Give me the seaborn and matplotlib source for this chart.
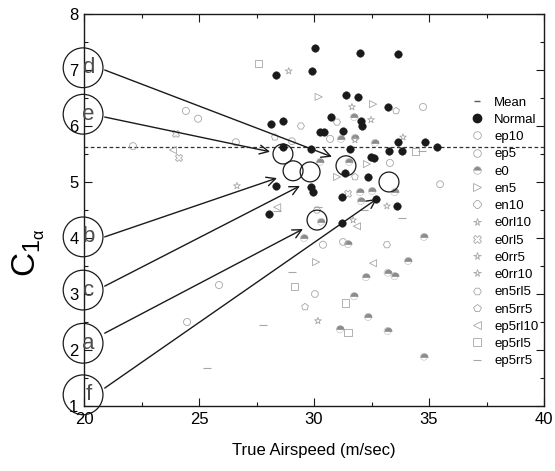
import matplotlib
matplotlib.use("Agg")
import matplotlib.pyplot as plt
from matplotlib import font_manager
from matplotlib.lines import Line2D
from matplotlib.markers import MarkerStyle
import seaborn as sns
import pandas as pd

# ---------------- data ----------------
normal_x = [30.04, 32.0, 33.65, 28.35, 29.9, 31.4, 31.9, 33.2, 28.13, 28.65, 30.74, 32.04, 32.1,
            30.26, 30.45, 31.26, 28.65, 29.87, 31.57, 32.48, 32.6, 33.26, 33.65, 33.83, 34.83, 35.35,
            31.35, 32.35, 28.35, 29.87, 29.96, 31.2, 32.7, 33.6, 28.04, 31.2]
normal_y = [7.39, 7.30, 7.29, 6.91, 6.98, 6.55, 6.52, 6.34, 6.04, 6.09, 6.16, 6.09, 6.0,
            5.89, 5.90, 5.91, 5.62, 5.59, 5.59, 5.45, 5.43, 5.55, 5.71, 5.55, 5.71, 5.63,
            5.16, 5.09, 4.93, 4.91, 4.82, 4.73, 4.70, 4.57, 4.43, 4.27]

ep10_x = [24.43, 22.13, 26.6, 30.7, 33.3]
ep10_y = [6.27, 5.64, 5.71, 5.77, 5.34]
ep5_x = [24.96, 25.87, 24.48, 34.74, 30.39]
ep5_y = [6.13, 3.16, 2.50, 6.34, 3.88]
e0_x = [31.74, 31.17, 31.78, 32.65, 30.26, 31.52, 32.0, 32.52, 33.5, 32.04, 30.3, 29.57, 31.48,
        32.26, 33.2, 33.5, 31.74, 32.35, 31.13, 33.2, 34.78, 34.09, 34.78]
e0_y = [6.16, 5.77, 5.79, 5.70, 5.36, 5.36, 4.82, 4.84, 4.82, 4.66, 4.29, 4.0, 3.89,
        3.30, 3.38, 3.32, 2.96, 2.59, 2.37, 2.34, 4.02, 3.59, 1.88]
en5_x = [30.2, 32.57, 32.3, 30.09, 31.0]
en5_y = [6.52, 6.39, 5.32, 3.57, 5.09]
en10_x = [35.48, 29.04, 31.26, 30.04]
en10_y = [4.96, 5.73, 3.93, 3.0]
e0rl10_x = [28.9, 31.78, 33.17]
e0rl10_y = [6.98, 5.75, 4.57]
e0rl5_x = [24.0, 24.13, 31.48]
e0rl5_y = [5.86, 5.43, 4.79]
e0rr5_x = [26.65, 32.48, 30.17]
e0rr5_y = [4.93, 6.11, 2.52]
e0rr10_x = [31.65, 33.87, 31.7]
e0rr10_y = [6.34, 5.80, 4.32]
en5rl5_x = [29.43, 31.0, 30.13, 33.17]
en5rl5_y = [6.0, 6.07, 4.50, 3.88]
en5rr5_x = [28.3, 33.57, 29.61, 31.78]
en5rr5_y = [5.80, 6.27, 2.77, 5.09]
ep5rl10_x = [23.87, 28.4, 31.87, 32.57]
ep5rl10_y = [5.57, 4.55, 4.21, 3.55]
ep5rl5_x = [27.57, 29.17, 31.35, 31.48, 34.4]
ep5rl5_y = [7.11, 3.14, 2.84, 2.32, 5.55]
ep5rr5_x = [27.78, 29.04, 25.35, 32.17, 33.83, 34.7, 30.17, 28.39]
ep5rr5_y = [2.45, 3.39, 1.68, 4.50, 4.36, 5.55, 4.55, 4.48]

mean_value = 5.62

# highlighted points (big open circles) and their labels
hl_x = [28.65, 29.09, 29.83, 31.39, 33.26, 30.13]
hl_y = [5.50, 5.20, 5.18, 5.29, 5.00, 4.32]
tag_labels = ["d", "e", "b", "c", "a", "f"]
tag_y = [7.04, 6.21, 4.02, 3.07, 2.12, 1.20]
arrow_start_y = [7.0, 6.16, 4.02, 3.14, 2.30, 1.32]
arrow_end_x = [30.78, 28.09, 28.39, 29.39, 29.52, 32.74]
arrow_end_y = [5.45, 5.54, 5.07, 4.93, 4.16, 4.70]

x_ticks = [20, 25, 30, 35, 40]
y_ticks = [1, 2, 3, 4, 5, 6, 7, 8]

# ---------------- style ----------------
sns.set_theme(style="ticks")
avail = {f.name for f in font_manager.fontManager.ttflist}
fams = [f for f in ["Liberation Sans Narrow", "Liberation Sans", "DejaVu Sans"] if f in avail]
plt.rcParams["font.family"] = fams
plt.rcParams["mathtext.fontset"] = "custom"
plt.rcParams["mathtext.rm"] = fams[0]
for k in ["text.color", "axes.labelcolor", "xtick.color", "ytick.color",
          "xtick.labelcolor", "ytick.labelcolor"]:
    plt.rcParams[k] = "black"

fig = plt.figure(figsize=(5.55, 4.71), dpi=100)
ax = fig.add_axes([84 / 555, 1 - 406 / 471, 460 / 555, 392 / 471])

gray = "#a6a6a6"
lw = 0.6
S = 26

series = [
    ("ep10", ep10_x, ep10_y, dict(marker="o")),
    ("ep5", ep5_x, ep5_y, dict(marker="o")),
    ("e0", e0_x, e0_y, None),
    ("en5", en5_x, en5_y, dict(marker=">")),
    ("en10", en10_x, en10_y, dict(marker="8")),
    ("e0rl10", e0rl10_x, e0rl10_y, dict(marker="*")),
    ("e0rl5", e0rl5_x, e0rl5_y, dict(marker="X")),
    ("e0rr5", e0rr5_x, e0rr5_y, dict(marker="*")),
    ("e0rr10", e0rr10_x, e0rr10_y, dict(marker="*")),
    ("en5rl5", en5rl5_x, en5rl5_y, dict(marker="H")),
    ("en5rr5", en5rr5_x, en5rr5_y, dict(marker="p")),
    ("ep5rl10", ep5rl10_x, ep5rl10_y, dict(marker="<")),
    ("ep5rl5", ep5rl5_x, ep5rl5_y, dict(marker="s")),
    ("ep5rr5", ep5rr5_x, ep5rr5_y, dict(marker="_")),
]

handles = [Line2D([], [], ls="none", marker="_", color="0.35", markersize=5),
           Line2D([], [], ls="none", marker="o", color="k", markersize=6)]
labels = ["Mean", "Normal"]

for name, xs, ys, kw in series:
    df = pd.DataFrame({"x": xs, "y": ys})
    if name == "e0":
        sns.scatterplot(data=df, x="x", y="y", ax=ax, marker="o", s=S,
                        facecolor="none", edgecolor="#c8c8c8", linewidth=0.5, zorder=3)
        sns.scatterplot(data=df, x="x", y="y", ax=ax, marker=MarkerStyle("o", fillstyle="top"),
                        s=S, color="#8c8c8c", edgecolor="#8c8c8c", linewidth=0.5, zorder=3)
        handles.append(Line2D([], [], ls="none", marker="o", fillstyle="top", color="#8c8c8c",
                              markerfacecoloralt="white", markeredgecolor="#b0b0b0",
                              markersize=5.5, markeredgewidth=0.5))
    else:
        m = kw["marker"]
        if m == "_":
            sns.scatterplot(data=df, x="x", y="y", ax=ax, marker="_", s=S,
                            color=gray, linewidth=0.8, zorder=3)
            handles.append(Line2D([], [], ls="none", marker="_", color=gray, markersize=5.5,
                                  markeredgewidth=0.8))
        else:
            sns.scatterplot(data=df, x="x", y="y", ax=ax, marker=m, s=S,
                            facecolor="none", edgecolor=gray, linewidth=lw, zorder=3)
            handles.append(Line2D([], [], ls="none", marker=m, markerfacecolor="none",
                                  markeredgecolor=gray, markersize=5.5, markeredgewidth=lw))
    labels.append(name)

ndf = pd.DataFrame({"x": normal_x, "y": normal_y})
sns.scatterplot(data=ndf, x="x", y="y", ax=ax, marker="o", s=30, color="k",
                edgecolor="k", linewidth=0.3, zorder=4)

ax.axhline(mean_value, color="0.2", ls=(0, (3, 2)), lw=0.9, zorder=2)

# highlighted circles
ax.scatter(hl_x, hl_y, s=205, facecolor="none", edgecolor="k", linewidth=0.9, zorder=5)
# tag circles on the left axis
ax.scatter([19.96] * len(tag_y), tag_y, s=820, facecolor="none", edgecolor="k",
           linewidth=0.9, zorder=6, clip_on=False)
for lab, ty in zip(tag_labels, tag_y):
    ax.text(20.2, ty, lab, fontsize=16, color="0.3", ha="center", va="center",
            zorder=8, clip_on=False)
for sy, ex, ey in zip(arrow_start_y, arrow_end_x, arrow_end_y):
    ax.annotate("", xy=(ex, ey), xytext=(20.9, sy),
                arrowprops=dict(arrowstyle="->", color="k", lw=1.0, shrinkA=0, shrinkB=0,
                                mutation_scale=16), zorder=7)

ax.set_xlim(20, 40)
ax.set_ylim(1, 8)
ax.set_xticks(x_ticks)
ax.set_yticks(y_ticks)
ax.set_xticks([22.5, 27.5, 32.5, 37.5], minor=True)
ax.set_yticks([1.5, 2.5, 3.5, 4.5, 5.5, 6.5, 7.5], minor=True)
ax.tick_params(which="both", direction="in", top=True, right=True, color="k", width=0.8,
               labelsize=12, pad=4, labelcolor="black")
ax.tick_params(which="major", length=6)
ax.tick_params(which="minor", length=3)
for sp in ax.spines.values():
    sp.set_color("k")
    sp.set_linewidth(1.0)

ax.set_xlabel("True Airspeed (m/sec)", fontsize=12, color="black")
ax.xaxis.set_label_coords(0.5, -0.095)
ax.set_ylabel(r"$\mathregular{C_{1_\alpha}}$", fontsize=24, rotation=90, color="black")
ax.yaxis.set_label_coords(-0.08, 0.39)

ax.legend(handles, labels, loc="upper left", bbox_to_anchor=(0.837, 0.79), frameon=False,
          fontsize=9.5, labelspacing=0.38, handlelength=1.2, handletextpad=0.7,
          borderpad=0, borderaxespad=0, numpoints=1, labelcolor="black")

fig.savefig("out.png", dpi=100)
